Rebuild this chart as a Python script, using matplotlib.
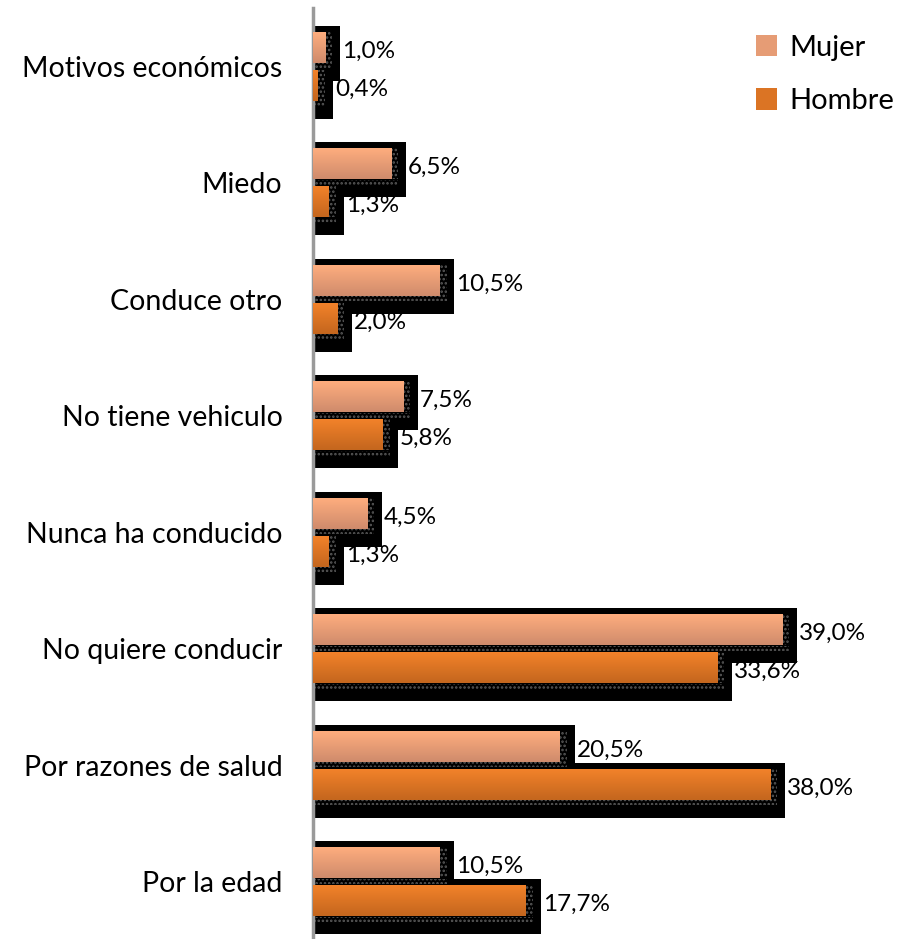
import matplotlib
matplotlib.use('Agg')
import matplotlib.pyplot as plt
import numpy as np
from matplotlib.colors import LinearSegmentedColormap
from matplotlib.patches import Patch

categories = ["Motivos económicos", "Miedo", "Conduce otro", "No tiene vehiculo",
              "Nunca ha conducido", "No quiere conducir", "Por razones de salud", "Por la edad"]
mujer = [1.0, 6.5, 10.5, 7.5, 4.5, 39.0, 20.5, 10.5]
hombre = [0.4, 1.3, 2.0, 5.8, 1.3, 33.6, 38.0, 17.7]
series_names = ["Mujer", "Hombre"]

plt.rcParams['font.family'] = ['Lato', 'DejaVu Sans']
plt.rcParams['hatch.linewidth'] = 1.2

W, H = 904, 939
fig = plt.figure(figsize=(W / 100, H / 100), dpi=100)
ax_left, ax_top, ax_bottom = 313, 8, 940
ax = fig.add_axes([ax_left / W, 1 - ax_bottom / H, (W - ax_left) / W, (ax_bottom - ax_top) / H])

n = len(categories)
py = 1 / 116.5          # data units per pixel (y)
xmax = (W - ax_left) / 12.03
px = 1 / 12.03          # data units per pixel (x)

cm_m = LinearSegmentedColormap.from_list('m', ['#FEAD7E', '#CF8B6C'])
cm_h = LinearSegmentedColormap.from_list('h', ['#F2822A', '#C4661E'])
grad = np.linspace(0, 1, 64).reshape(-1, 1)

bar_h = 31 * py
offs = 19 * py
for series, off, cmap in [(mujer, -offs, cm_m), (hombre, offs, cm_h)]:
    for i, v in enumerate(series):
        yc = i + off
        # shadow
        ax.barh(yc + 6 * py, v + 15 * px, height=bar_h + 24 * py, left=0,
                color='black', zorder=1, linewidth=0)
        # dotted texture strip
        ax.barh(yc + bar_h / 2 + 3 * py, v + 0.6, height=5 * py, left=0,
                facecolor='black', edgecolor='#5a5a5a', hatch='....', zorder=2, linewidth=0)
        ax.barh(yc, 0.6, height=bar_h, left=v,
                facecolor='black', edgecolor='#5a5a5a', hatch='....', zorder=2, linewidth=0)
        bars = ax.barh(yc, v, height=bar_h, left=0, color=cmap(0.5), zorder=3, linewidth=0)
        b = bars[0]
        im = ax.imshow(grad, extent=(0, v, yc + bar_h / 2, yc - bar_h / 2), aspect='auto',
                       cmap=cmap, zorder=3.5, interpolation='bilinear')
        im.set_clip_path(b)
        ax.text(v + 17 * px, yc + 4 * py, f"{v:.1f}%".replace('.', ','),
                ha='left', va='center', fontsize=17.5, color='black', zorder=5)

ax.set_xlim(0, xmax)
ax.set_ylim(n - 0.5, -0.5)
ax.set_yticks(range(n))
ax.set_yticklabels(categories, fontsize=20.5)
ax.tick_params(axis='y', length=0, pad=22)
ax.set_xticks([])
for s in ['top', 'right', 'bottom']:
    ax.spines[s].set_visible(False)
ax.spines['left'].set_color('#9a9a9a')
ax.spines['left'].set_linewidth(2.5)
ax.set_facecolor('none')

handles = [Patch(facecolor=cm_m(0.5), edgecolor='none'), Patch(facecolor=cm_h(0.5), edgecolor='none')]
fig.legend(handles, series_names, loc='upper left', bbox_to_anchor=(741 / W, 1 - 20 / H),
           frameon=False, fontsize=21, handlelength=0.75, handleheight=0.75,
           handletextpad=0.4, labelspacing=0.95, borderpad=0)

fig.savefig('out.png', dpi=100)
